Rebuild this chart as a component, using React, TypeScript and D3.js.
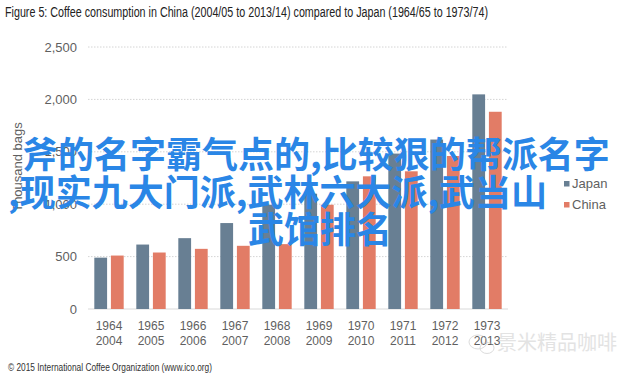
import React from "react";
import * as d3 from "d3";

const years1 = ["1964", "1965", "1966", "1967", "1968", "1969", "1970", "1971", "1972", "1973"];
const years2 = ["2004", "2005", "2006", "2007", "2008", "2009", "2010", "2011", "2012", "2013"];
const japan = [490, 615, 676, 820, 995, 1100, 1218, 1483, 1617, 2048];
const china = [510, 539, 574, 603, 619, 995, 1266, 1314, 1460, 1882];
const seriesNames = ["Japan", "China"];
const yTicks = [0, 500, 1000, 1500, 2000, 2500];
const overlayLines = [
  "斧的名字霸气点的,比较狠的帮派名字",
  ",现实九大门派,武林六大派,武当山",
  "武馆排名",
];

const W = 640;
const H = 377;
const colors: Record<string, string> = { Japan: "#687f93", China: "#e27c66" };
const sans = "'Liberation Sans', Arial, sans-serif";

export default function App() {
  const x = d3.scaleBand<string>().domain(years1).range([88, 508]).paddingInner(0).paddingOuter(0);
  const xs = d3.scaleBand<string>().domain(seriesNames).range([0, x.bandwidth()]).paddingInner(0.23).paddingOuter(0.38);
  const y = d3.scaleLinear().domain([0, 2500]).range([309, 47]);
  const fmt = d3.format(",");
  const data: Record<string, number[]> = { Japan: japan, China: china };

  return (
    <svg width={W} height={H} style={{ position: "absolute", left: 0, top: 0, background: "#fff" }}>
      <rect width={W} height={H} fill="#fff" />
      <text x={5} y={17} fontSize={14} fontFamily="'Liberation Sans Narrow', 'Liberation Sans', sans-serif" fill="#222" textLength={483} lengthAdjust="spacingAndGlyphs">
        Figure 5: Coffee consumption in China (2004/05 to 2013/14) compared to Japan (1964/65 to 1973/74)
      </text>

      {yTicks.map((t) => (
        <g key={t}>
          {t > 0 ? (
            <line x1={88} x2={508} y1={y(t)} y2={y(t)} stroke="#d4d4d4" strokeWidth={1} strokeDasharray="1.5,1.5" />
          ) : (
            <line x1={88} x2={508} y1={y(t)} y2={y(t)} stroke="#d9d9d9" strokeWidth={1.2} />
          )}
          <text x={77} y={y(t) + 4.5} textAnchor="end" fontSize={13} fontFamily={sans} fill="#5f5f5f">
            {fmt(t)}
          </text>
        </g>
      ))}

      <text transform="translate(22,167) rotate(-90)" textAnchor="middle" fontSize={13} fontFamily={sans} fill="#5f5f5f">
        Thousand bags
      </text>

      {years1.map((yr, i) => (
        <g key={yr}>
          {seriesNames.map((s) => (
            <rect
              key={s}
              x={(x(yr) as number) + (xs(s) as number)}
              y={y(data[s][i])}
              width={xs.bandwidth()}
              height={y(0) - y(data[s][i])}
              fill={colors[s]}
            />
          ))}
          <text x={(x(yr) as number) + x.bandwidth() / 2} y={330} textAnchor="middle" fontSize={12} fontFamily={sans} fill="#5f5f5f">
            {yr}
          </text>
          <text x={(x(yr) as number) + x.bandwidth() / 2} y={345} textAnchor="middle" fontSize={12} fontFamily={sans} fill="#5f5f5f">
            {years2[i]}
          </text>
        </g>
      ))}

      {seriesNames.map((s, i) => (
        <g key={s}>
          <rect x={564} y={181 + i * 21} width={5.5} height={5.5} fill={colors[s]} />
          <text x={572} y={188 + i * 21} fontSize={13} fontFamily={sans} fill="#5f5f5f">
            {s}
          </text>
        </g>
      ))}

      <text x={8} y={371} fontSize={10} fontFamily={sans} fill="#333" textLength={204} lengthAdjust="spacingAndGlyphs">
        © 2015 International Coffee Organization (www.ico.org)
      </text>

      <g opacity={0.5}>
        <ellipse cx={478} cy={342} rx={9} ry={7} fill="none" stroke="#bbb" strokeWidth={1} />
        <ellipse cx={487} cy={348} rx={7} ry={5.5} fill="none" stroke="#bbb" strokeWidth={1} />
        <text x={497} y={350} fontSize={20} fontFamily="'Noto Sans CJK SC', sans-serif" fill="#c8c8c8">
          景米精品咖啡
        </text>
      </g>

      <g fontFamily="'Noto Sans CJK SC', sans-serif" fontWeight={700} fontSize={36} fill="#2a86e6">
        <text x={22} y={168}>{overlayLines[0]}</text>
        <text x={8} y={206}>{overlayLines[1]}</text>
        <text x={248} y={243}>{overlayLines[2]}</text>
      </g>
    </svg>
  );
}
